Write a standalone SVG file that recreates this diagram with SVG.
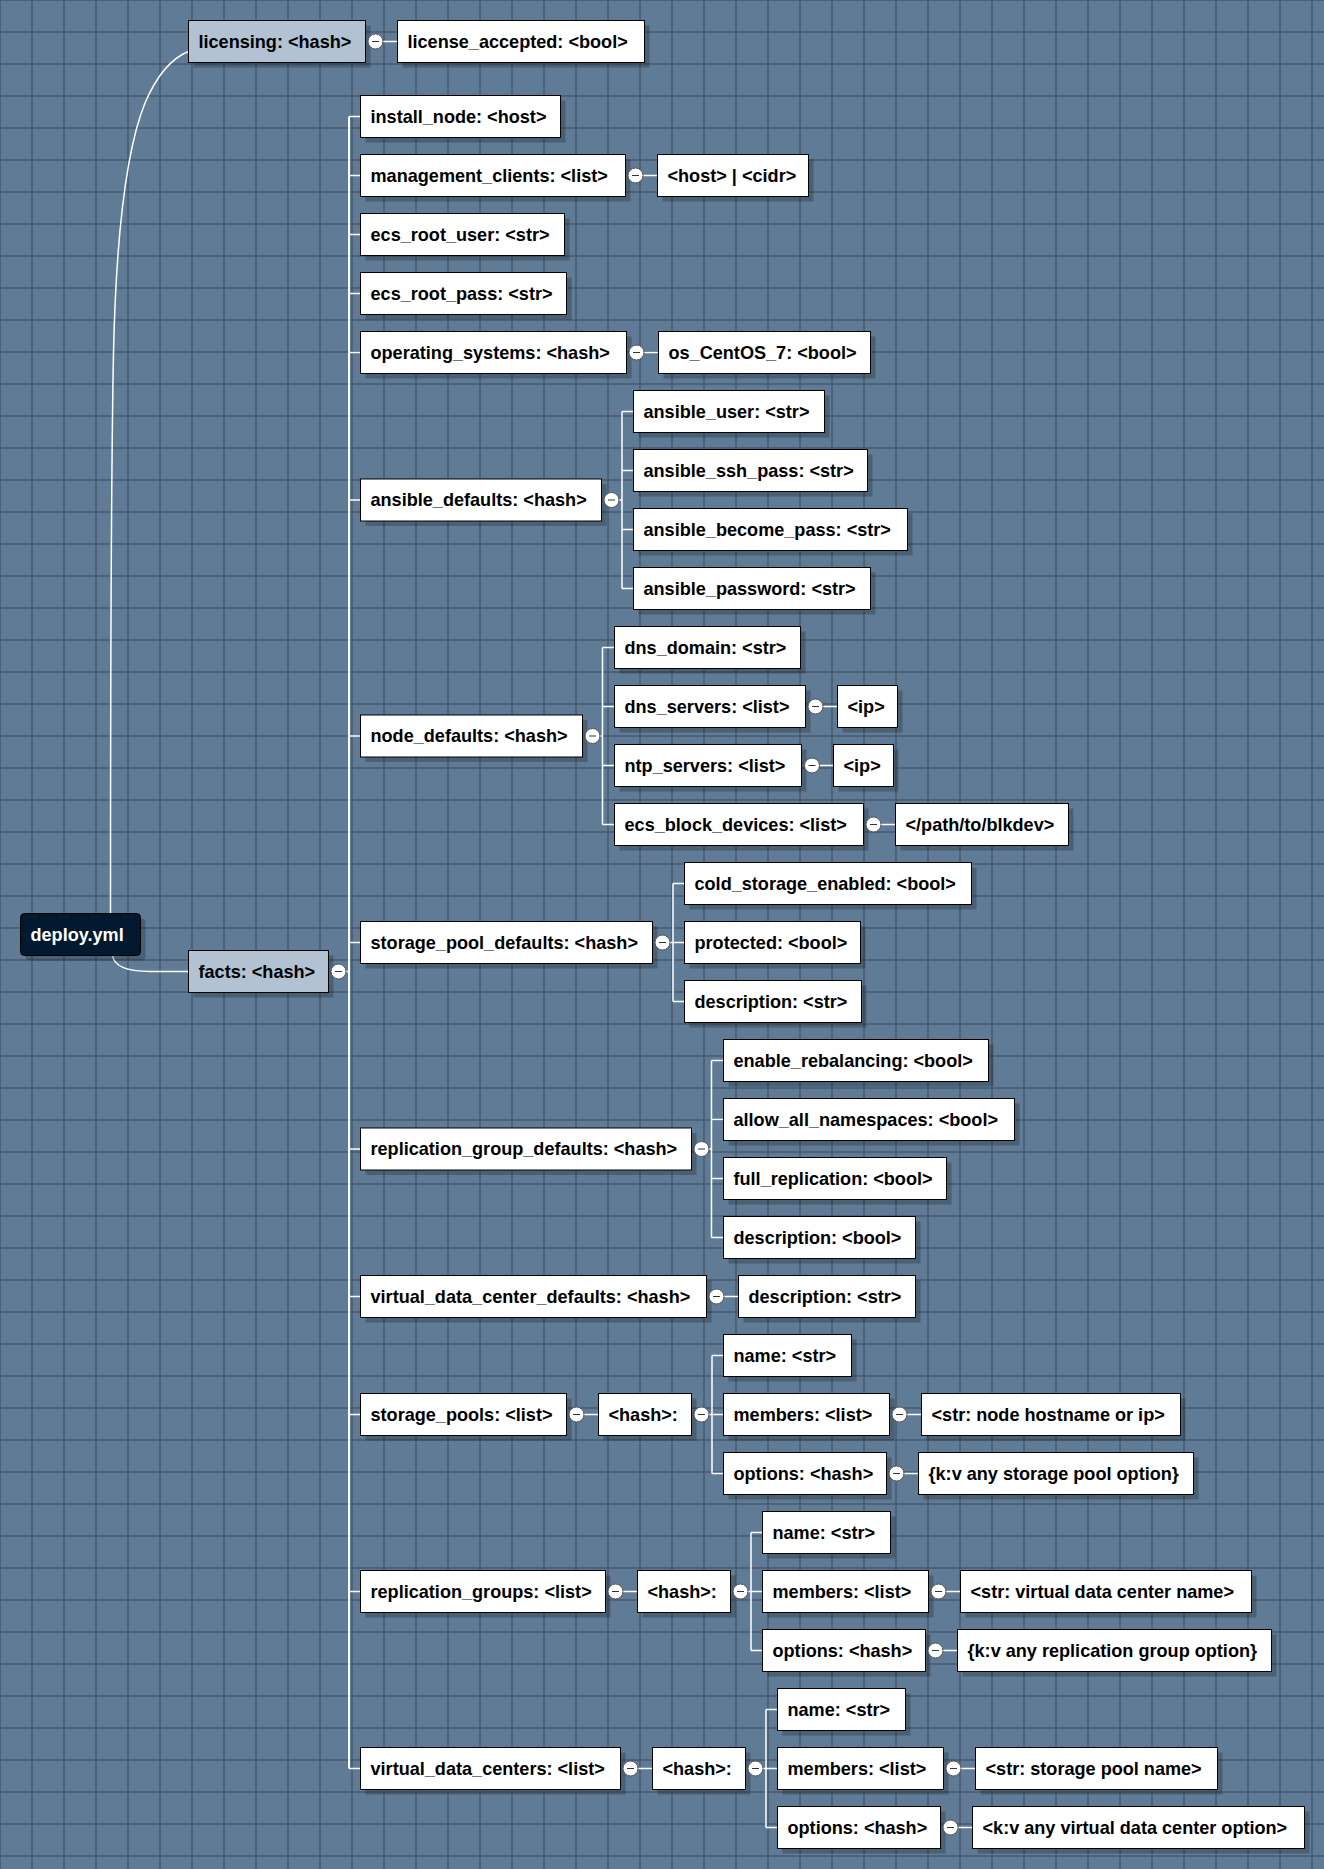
<svg xmlns="http://www.w3.org/2000/svg" width="1324" height="1869" viewBox="0 0 1324 1869">
<style>
text{font-family:"Liberation Sans",Arial,sans-serif;font-weight:bold;font-size:18.1px;fill:#000}
.sh{fill:#000;fill-opacity:0.22}
.bx{fill:#fff;stroke:#000;stroke-width:1}
.mn{fill:#b2c2d2;stroke:#000;stroke-width:1}
.rt{fill:#03192f;stroke:#000;stroke-width:1}
.rtt{fill:#fff}
.c{stroke:#fff;stroke-width:1.5;fill:none}
.cb{stroke:#fff;stroke-width:2;fill:none}
.tg circle{fill:#fff;stroke:#555;stroke-width:1}
.tg path{stroke:#333;stroke-width:1;fill:none}
</style>
<defs>
<pattern id="grid" patternUnits="userSpaceOnUse" x="-16" y="-16" width="32" height="32">
<rect width="32" height="32" fill="#5f7b96"/>
<rect x="15.25" y="0" width="1.5" height="32" fill="#475a6e"/>
<rect x="0" y="15.25" width="32" height="1.5" fill="#475a6e"/>
</pattern>
</defs>
<rect width="1324" height="1869" fill="url(#grid)"/>

<g id="connectors">
<path class="c" d="M110.5,913 C110.5,700 111,480 113.5,353 C116,240 126,150 145,103 C157,75 172,58 188.5,51.5"/>
<path class="c" d="M112.5,955 C113.5,965 125,971.4 150,971.4 L188.5,971.5"/>
<path class="c" d="M383,41.5 H397"/>
<path class="c" d="M346,971.5 H349"/>
<path class="cb" d="M349,116.5 V1768.5"/>
<path class="c" d="M349,116.5 H360 M349,175.5 H360 M349,234.5 H360 M349,293.5 H360 M349,352.5 H360 M349,500 H360 M349,736 H360 M349,942.5 H360 M349,1149 H360 M349,1296.5 H360 M349,1414.5 H360 M349,1591.5 H360 M349,1768.5 H360"/>
<path class="c" d="M643,175.5 H657"/>
<path class="c" d="M644,352.5 H658"/>
<path class="c" d="M618.5,500 H622 M622,411.5 V588.5 M622,411.5 H633 M622,470.5 H633 M622,529.5 H633 M622,588.5 H633"/>
<path class="c" d="M600,736 H602.5 M602.5,647.5 V824.5 M602.5,647.5 H614 M602.5,706.5 H614 M602.5,765.5 H614 M602.5,824.5 H614"/>
<path class="c" d="M823,706.5 H837 M819.5,765.5 H833 M881,824.5 H895"/>
<path class="c" d="M670,942.5 H673 M673,883.5 V1001.5 M673,883.5 H684 M673,942.5 H684 M673,1001.5 H684"/>
<path class="c" d="M709,1149 H711.5 M711.5,1060.5 V1237.5 M711.5,1060.5 H723 M711.5,1119.5 H723 M711.5,1178.5 H723 M711.5,1237.5 H723"/>
<path class="c" d="M724,1296.5 H738"/>
<path class="c" d="M584,1414.5 H598 M709,1414.5 H712 M712,1355.5 V1473.5 M712,1355.5 H723 M712,1414.5 H723 M712,1473.5 H723 M907,1414.5 H921 M904,1473.5 H918"/>
<path class="c" d="M623,1591.5 H637 M748,1591.5 H751 M751,1532.5 V1650.5 M751,1532.5 H762 M751,1591.5 H762 M751,1650.5 H762 M946,1591.5 H960 M943,1650.5 H957"/>
<path class="c" d="M638,1768.5 H652 M763,1768.5 H766 M766,1709.5 V1827.5 M766,1709.5 H777 M766,1768.5 H777 M766,1827.5 H777 M961,1768.5 H975 M958,1827.5 H972"/>
</g>

<g id="n-root"><rect class="sh" x="25.5" y="918.5" width="120" height="42" rx="4"/><rect class="rt" x="20.5" y="913.5" width="120" height="42" rx="4"/><text class="rtt" x="30.5" y="940.5">deploy.yml</text></g>

<g id="n-licensing"><rect class="sh" x="193.5" y="25.5" width="177" height="42"/><rect class="mn" x="188.5" y="20.5" width="177" height="42"/><text x="198.5" y="47.5">licensing: &lt;hash&gt;</text>
<g class="tg"><circle cx="375.5" cy="41.5" r="7.5"/><path d="M372,41.5 H379"/></g></g>
<g id="n-license_accepted"><rect class="sh" x="402.5" y="25.5" width="247" height="42"/><rect class="bx" x="397.5" y="20.5" width="247" height="42"/><text x="407.5" y="47.5">license_accepted: &lt;bool&gt;</text></g>

<g id="n-facts"><rect class="sh" x="193.5" y="955.5" width="140" height="42"/><rect class="mn" x="188.5" y="950.5" width="140" height="42"/><text x="198.5" y="977.5">facts: &lt;hash&gt;</text>
<g class="tg"><circle cx="338.5" cy="971.5" r="7.5"/><path d="M335,971.5 H342"/></g></g>

<g id="n-install_node"><rect class="sh" x="365.5" y="100.5" width="200" height="42"/><rect class="bx" x="360.5" y="95.5" width="200" height="42"/><text x="370.5" y="122.5">install_node: &lt;host&gt;</text></g>

<g id="n-management_clients"><rect class="sh" x="365.5" y="159.5" width="265" height="42"/><rect class="bx" x="360.5" y="154.5" width="265" height="42"/><text x="370.5" y="181.5">management_clients: &lt;list&gt;</text>
<g class="tg"><circle cx="635.5" cy="175.5" r="7.5"/><path d="M632,175.5 H639"/></g></g>
<g id="n-host_cidr"><rect class="sh" x="662.5" y="159.5" width="151" height="42"/><rect class="bx" x="657.5" y="154.5" width="151" height="42"/><text x="667.5" y="181.5">&lt;host&gt; | &lt;cidr&gt;</text></g>

<g id="n-ecs_root_user"><rect class="sh" x="365.5" y="218.5" width="204" height="42"/><rect class="bx" x="360.5" y="213.5" width="204" height="42"/><text x="370.5" y="240.5">ecs_root_user: &lt;str&gt;</text></g>
<g id="n-ecs_root_pass"><rect class="sh" x="365.5" y="277.5" width="206" height="42"/><rect class="bx" x="360.5" y="272.5" width="206" height="42"/><text x="370.5" y="299.5">ecs_root_pass: &lt;str&gt;</text></g>

<g id="n-operating_systems"><rect class="sh" x="365.5" y="336.5" width="266" height="42"/><rect class="bx" x="360.5" y="331.5" width="266" height="42"/><text x="370.5" y="358.5">operating_systems: &lt;hash&gt;</text>
<g class="tg"><circle cx="636.5" cy="352.5" r="7.5"/><path d="M633,352.5 H640"/></g></g>
<g id="n-os_centos_7"><rect class="sh" x="663.5" y="336.5" width="212" height="42"/><rect class="bx" x="658.5" y="331.5" width="212" height="42"/><text x="668.5" y="358.5">os_CentOS_7: &lt;bool&gt;</text></g>

<g id="n-ansible_defaults"><rect class="sh" x="365.5" y="484" width="241" height="42"/><rect class="bx" x="360.5" y="479" width="241" height="42"/><text x="370.5" y="506">ansible_defaults: &lt;hash&gt;</text>
<g class="tg"><circle cx="611.5" cy="500" r="7.5"/><path d="M608,500 H615"/></g></g>
<g id="n-ansible_user"><rect class="sh" x="638.5" y="395.5" width="191" height="42"/><rect class="bx" x="633.5" y="390.5" width="191" height="42"/><text x="643.5" y="417.5">ansible_user: &lt;str&gt;</text></g>
<g id="n-ansible_ssh_pass"><rect class="sh" x="638.5" y="454.5" width="234" height="42"/><rect class="bx" x="633.5" y="449.5" width="234" height="42"/><text x="643.5" y="476.5">ansible_ssh_pass: &lt;str&gt;</text></g>
<g id="n-ansible_become_pass"><rect class="sh" x="638.5" y="513.5" width="274" height="42"/><rect class="bx" x="633.5" y="508.5" width="274" height="42"/><text x="643.5" y="535.5">ansible_become_pass: &lt;str&gt;</text></g>
<g id="n-ansible_password"><rect class="sh" x="638.5" y="572.5" width="237" height="42"/><rect class="bx" x="633.5" y="567.5" width="237" height="42"/><text x="643.5" y="594.5">ansible_password: &lt;str&gt;</text></g>

<g id="n-node_defaults"><rect class="sh" x="365.5" y="720" width="222" height="42"/><rect class="bx" x="360.5" y="715" width="222" height="42"/><text x="370.5" y="742">node_defaults: &lt;hash&gt;</text>
<g class="tg"><circle cx="592.5" cy="736" r="7.5"/><path d="M589,736 H596"/></g></g>
<g id="n-dns_domain"><rect class="sh" x="619.5" y="631.5" width="186" height="42"/><rect class="bx" x="614.5" y="626.5" width="186" height="42"/><text x="624.5" y="653.5">dns_domain: &lt;str&gt;</text></g>
<g id="n-dns_servers"><rect class="sh" x="619.5" y="690.5" width="191" height="42"/><rect class="bx" x="614.5" y="685.5" width="191" height="42"/><text x="624.5" y="712.5">dns_servers: &lt;list&gt;</text>
<g class="tg"><circle cx="815.5" cy="706.5" r="7.5"/><path d="M812,706.5 H819"/></g></g>
<g id="n-dns_ip"><rect class="sh" x="842.5" y="690.5" width="60" height="42"/><rect class="bx" x="837.5" y="685.5" width="60" height="42"/><text x="847.5" y="712.5">&lt;ip&gt;</text></g>
<g id="n-ntp_servers"><rect class="sh" x="619.5" y="749.5" width="187" height="42"/><rect class="bx" x="614.5" y="744.5" width="187" height="42"/><text x="624.5" y="771.5">ntp_servers: &lt;list&gt;</text>
<g class="tg"><circle cx="812" cy="765.5" r="7.5"/><path d="M808.5,765.5 H815.5"/></g></g>
<g id="n-ntp_ip"><rect class="sh" x="838.5" y="749.5" width="60" height="42"/><rect class="bx" x="833.5" y="744.5" width="60" height="42"/><text x="843.5" y="771.5">&lt;ip&gt;</text></g>
<g id="n-ecs_block_devices"><rect class="sh" x="619.5" y="808.5" width="249" height="42"/><rect class="bx" x="614.5" y="803.5" width="249" height="42"/><text x="624.5" y="830.5">ecs_block_devices: &lt;list&gt;</text>
<g class="tg"><circle cx="873.5" cy="824.5" r="7.5"/><path d="M870,824.5 H877"/></g></g>
<g id="n-blkdev"><rect class="sh" x="900.5" y="808.5" width="173" height="42"/><rect class="bx" x="895.5" y="803.5" width="173" height="42"/><text x="905.5" y="830.5">&lt;/path/to/blkdev&gt;</text></g>

<g id="n-storage_pool_defaults"><rect class="sh" x="365.5" y="926.5" width="292" height="42"/><rect class="bx" x="360.5" y="921.5" width="292" height="42"/><text x="370.5" y="948.5">storage_pool_defaults: &lt;hash&gt;</text>
<g class="tg"><circle cx="662.5" cy="942.5" r="7.5"/><path d="M659,942.5 H666"/></g></g>
<g id="n-cold_storage_enabled"><rect class="sh" x="689.5" y="867.5" width="287" height="42"/><rect class="bx" x="684.5" y="862.5" width="287" height="42"/><text x="694.5" y="889.5">cold_storage_enabled: &lt;bool&gt;</text></g>
<g id="n-protected"><rect class="sh" x="689.5" y="926.5" width="176" height="42"/><rect class="bx" x="684.5" y="921.5" width="176" height="42"/><text x="694.5" y="948.5">protected: &lt;bool&gt;</text></g>
<g id="n-spd_description"><rect class="sh" x="689.5" y="985.5" width="177" height="42"/><rect class="bx" x="684.5" y="980.5" width="177" height="42"/><text x="694.5" y="1007.5">description: &lt;str&gt;</text></g>

<g id="n-replication_group_defaults"><rect class="sh" x="365.5" y="1133" width="331" height="42"/><rect class="bx" x="360.5" y="1128" width="331" height="42"/><text x="370.5" y="1155">replication_group_defaults: &lt;hash&gt;</text>
<g class="tg"><circle cx="701.5" cy="1149" r="7.5"/><path d="M698,1149 H705"/></g></g>
<g id="n-enable_rebalancing"><rect class="sh" x="728.5" y="1044.5" width="265" height="42"/><rect class="bx" x="723.5" y="1039.5" width="265" height="42"/><text x="733.5" y="1066.5">enable_rebalancing: &lt;bool&gt;</text></g>
<g id="n-allow_all_namespaces"><rect class="sh" x="728.5" y="1103.5" width="291" height="42"/><rect class="bx" x="723.5" y="1098.5" width="291" height="42"/><text x="733.5" y="1125.5">allow_all_namespaces: &lt;bool&gt;</text></g>
<g id="n-full_replication"><rect class="sh" x="728.5" y="1162.5" width="223" height="42"/><rect class="bx" x="723.5" y="1157.5" width="223" height="42"/><text x="733.5" y="1184.5">full_replication: &lt;bool&gt;</text></g>
<g id="n-rgd_description"><rect class="sh" x="728.5" y="1221.5" width="192" height="42"/><rect class="bx" x="723.5" y="1216.5" width="192" height="42"/><text x="733.5" y="1243.5">description: &lt;bool&gt;</text></g>

<g id="n-virtual_data_center_defaults"><rect class="sh" x="365.5" y="1280.5" width="346" height="42"/><rect class="bx" x="360.5" y="1275.5" width="346" height="42"/><text x="370.5" y="1302.5">virtual_data_center_defaults: &lt;hash&gt;</text>
<g class="tg"><circle cx="716.5" cy="1296.5" r="7.5"/><path d="M713,1296.5 H720"/></g></g>
<g id="n-vdcd_description"><rect class="sh" x="743.5" y="1280.5" width="177" height="42"/><rect class="bx" x="738.5" y="1275.5" width="177" height="42"/><text x="748.5" y="1302.5">description: &lt;str&gt;</text></g>

<g id="n-storage_pools"><rect class="sh" x="365.5" y="1398.5" width="206" height="42"/><rect class="bx" x="360.5" y="1393.5" width="206" height="42"/><text x="370.5" y="1420.5">storage_pools: &lt;list&gt;</text>
<g class="tg"><circle cx="576.5" cy="1414.5" r="7.5"/><path d="M573,1414.5 H580"/></g></g>
<g id="n-sp_hash"><rect class="sh" x="603.5" y="1398.5" width="93" height="42"/><rect class="bx" x="598.5" y="1393.5" width="93" height="42"/><text x="608.5" y="1420.5">&lt;hash&gt;:</text>
<g class="tg"><circle cx="701.5" cy="1414.5" r="7.5"/><path d="M698,1414.5 H705"/></g></g>
<g id="n-sp_name"><rect class="sh" x="728.5" y="1339.5" width="128" height="42"/><rect class="bx" x="723.5" y="1334.5" width="128" height="42"/><text x="733.5" y="1361.5">name: &lt;str&gt;</text></g>
<g id="n-sp_members"><rect class="sh" x="728.5" y="1398.5" width="166" height="42"/><rect class="bx" x="723.5" y="1393.5" width="166" height="42"/><text x="733.5" y="1420.5">members: &lt;list&gt;</text>
<g class="tg"><circle cx="899.5" cy="1414.5" r="7.5"/><path d="M896,1414.5 H903"/></g></g>
<g id="n-sp_members_val"><rect class="sh" x="926.5" y="1398.5" width="259" height="42"/><rect class="bx" x="921.5" y="1393.5" width="259" height="42"/><text x="931.5" y="1420.5">&lt;str: node hostname or ip&gt;</text></g>
<g id="n-sp_options"><rect class="sh" x="728.5" y="1457.5" width="163" height="42"/><rect class="bx" x="723.5" y="1452.5" width="163" height="42"/><text x="733.5" y="1479.5">options: &lt;hash&gt;</text>
<g class="tg"><circle cx="896.5" cy="1473.5" r="7.5"/><path d="M893,1473.5 H900"/></g></g>
<g id="n-sp_options_val"><rect class="sh" x="923.5" y="1457.5" width="275" height="42"/><rect class="bx" x="918.5" y="1452.5" width="275" height="42"/><text x="928.5" y="1479.5">{k:v any storage pool option}</text></g>

<g id="n-replication_groups"><rect class="sh" x="365.5" y="1575.5" width="245" height="42"/><rect class="bx" x="360.5" y="1570.5" width="245" height="42"/><text x="370.5" y="1597.5">replication_groups: &lt;list&gt;</text>
<g class="tg"><circle cx="615.5" cy="1591.5" r="7.5"/><path d="M612,1591.5 H619"/></g></g>
<g id="n-rg_hash"><rect class="sh" x="642.5" y="1575.5" width="93" height="42"/><rect class="bx" x="637.5" y="1570.5" width="93" height="42"/><text x="647.5" y="1597.5">&lt;hash&gt;:</text>
<g class="tg"><circle cx="740.5" cy="1591.5" r="7.5"/><path d="M737,1591.5 H744"/></g></g>
<g id="n-rg_name"><rect class="sh" x="767.5" y="1516.5" width="128" height="42"/><rect class="bx" x="762.5" y="1511.5" width="128" height="42"/><text x="772.5" y="1538.5">name: &lt;str&gt;</text></g>
<g id="n-rg_members"><rect class="sh" x="767.5" y="1575.5" width="166" height="42"/><rect class="bx" x="762.5" y="1570.5" width="166" height="42"/><text x="772.5" y="1597.5">members: &lt;list&gt;</text>
<g class="tg"><circle cx="938.5" cy="1591.5" r="7.5"/><path d="M935,1591.5 H942"/></g></g>
<g id="n-rg_members_val"><rect class="sh" x="965.5" y="1575.5" width="291" height="42"/><rect class="bx" x="960.5" y="1570.5" width="291" height="42"/><text x="970.5" y="1597.5">&lt;str: virtual data center name&gt;</text></g>
<g id="n-rg_options"><rect class="sh" x="767.5" y="1634.5" width="163" height="42"/><rect class="bx" x="762.5" y="1629.5" width="163" height="42"/><text x="772.5" y="1656.5">options: &lt;hash&gt;</text>
<g class="tg"><circle cx="935.5" cy="1650.5" r="7.5"/><path d="M932,1650.5 H939"/></g></g>
<g id="n-rg_options_val"><rect class="sh" x="962.5" y="1634.5" width="314" height="42"/><rect class="bx" x="957.5" y="1629.5" width="314" height="42"/><text x="967.5" y="1656.5">{k:v any replication group option}</text></g>

<g id="n-virtual_data_centers"><rect class="sh" x="365.5" y="1752.5" width="260" height="42"/><rect class="bx" x="360.5" y="1747.5" width="260" height="42"/><text x="370.5" y="1774.5">virtual_data_centers: &lt;list&gt;</text>
<g class="tg"><circle cx="630.5" cy="1768.5" r="7.5"/><path d="M627,1768.5 H634"/></g></g>
<g id="n-vdc_hash"><rect class="sh" x="657.5" y="1752.5" width="93" height="42"/><rect class="bx" x="652.5" y="1747.5" width="93" height="42"/><text x="662.5" y="1774.5">&lt;hash&gt;:</text>
<g class="tg"><circle cx="755.5" cy="1768.5" r="7.5"/><path d="M752,1768.5 H759"/></g></g>
<g id="n-vdc_name"><rect class="sh" x="782.5" y="1693.5" width="128" height="42"/><rect class="bx" x="777.5" y="1688.5" width="128" height="42"/><text x="787.5" y="1715.5">name: &lt;str&gt;</text></g>
<g id="n-vdc_members"><rect class="sh" x="782.5" y="1752.5" width="166" height="42"/><rect class="bx" x="777.5" y="1747.5" width="166" height="42"/><text x="787.5" y="1774.5">members: &lt;list&gt;</text>
<g class="tg"><circle cx="953.5" cy="1768.5" r="7.5"/><path d="M950,1768.5 H957"/></g></g>
<g id="n-vdc_members_val"><rect class="sh" x="980.5" y="1752.5" width="242" height="42"/><rect class="bx" x="975.5" y="1747.5" width="242" height="42"/><text x="985.5" y="1774.5">&lt;str: storage pool name&gt;</text></g>
<g id="n-vdc_options"><rect class="sh" x="782.5" y="1811.5" width="163" height="42"/><rect class="bx" x="777.5" y="1806.5" width="163" height="42"/><text x="787.5" y="1833.5">options: &lt;hash&gt;</text>
<g class="tg"><circle cx="950.5" cy="1827.5" r="7.5"/><path d="M947,1827.5 H954"/></g></g>
<g id="n-vdc_options_val"><rect class="sh" x="977.5" y="1811.5" width="332" height="42"/><rect class="bx" x="972.5" y="1806.5" width="332" height="42"/><text x="982.5" y="1833.5">&lt;k:v any virtual data center option&gt;</text></g>
</svg>
